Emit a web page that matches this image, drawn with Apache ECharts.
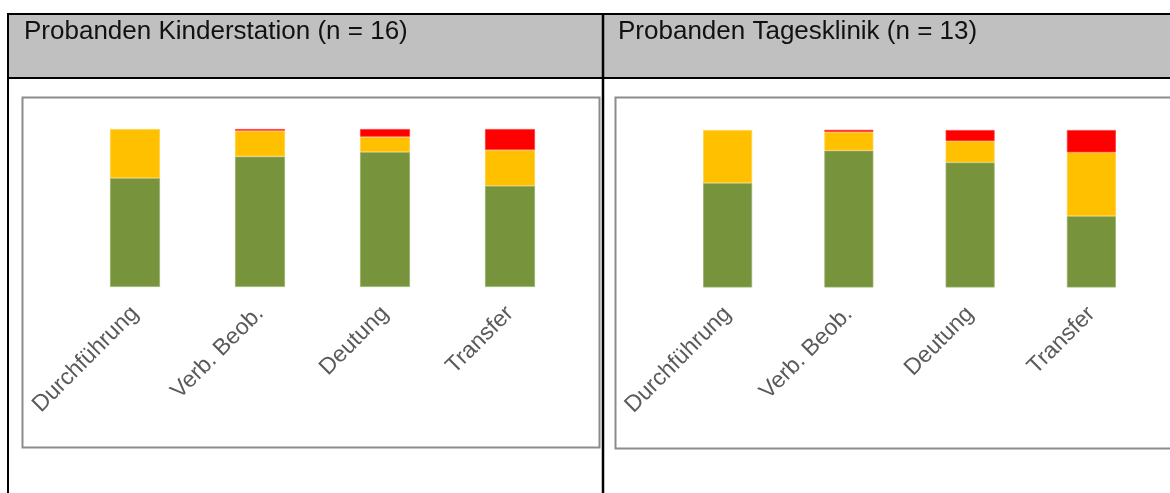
<!DOCTYPE html>
<html>
<head>
<meta charset="utf-8">
<script src="https://cdn.jsdelivr.net/npm/echarts@6/dist/echarts.min.js"></script>
<style>
  html, body { margin: 0; padding: 0; background: #ffffff; }
  #chart { width: 1170px; height: 493px; }
</style>
</head>
<body>
<div id="chart"></div>
<script>
// Rating categories shared by both groups
const categories = ['Durchführung', 'Verb. Beob.', 'Deutung', 'Transfer'];

// Header captions
const headerLeft = 'Probanden Kinderstation (n = 16)';
const headerRight = 'Probanden Tagesklinik (n = 13)';

// Kinderstation: share of ratings per category (percent)
const kinderGreen  = [68.9, 82.6, 85.4, 64.0];
const kinderYellow = [31.1, 16.3,  9.7, 22.7];
const kinderRed    = [ 0.0,  1.1,  4.9, 13.3];

// Tagesklinik: share of ratings per category (percent)
const tagesGreen  = [66.3, 86.9, 79.4, 45.3];
const tagesYellow = [33.7, 11.9, 13.6, 40.5];
const tagesRed    = [ 0.0,  1.3,  7.0, 14.2];

const GREEN = '#77933C';
const YELLOW = '#FFC000';
const RED = '#FF0000';
const FONT = '"Liberation Sans", Arial, sans-serif';

const chart = echarts.init(document.getElementById('chart'), null, { renderer: 'canvas' });

function xAxisFor(gridIndex) {
  return {
    type: 'category',
    gridIndex,
    data: categories,
    axisLine: { show: false },
    axisTick: { show: false },
    axisLabel: {
      rotate: 45,
      margin: 23,
      color: '#5A5A5A',
      fontFamily: FONT,
      fontSize: 23,
      interval: 0
    }
  };
}

function yAxisFor(gridIndex) {
  return {
    type: 'value',
    gridIndex,
    min: 0,
    max: 100,
    show: false,
    splitLine: { show: false }
  };
}

// Empty segments are left out so their outline does not show
function barSeries(data, color, edge, axisIndex, width, stack) {
  return {
    type: 'bar',
    data: data.map(v => (v === 0 ? '-' : v)),
    stack,
    xAxisIndex: axisIndex,
    yAxisIndex: axisIndex,
    barWidth: width,
    itemStyle: { color, borderColor: edge, borderWidth: 0.8 },
    emphasis: { disabled: true },
    silent: true
  };
}

const option = {
  animation: false,
  backgroundColor: '#ffffff',
  grid: [
    { left: 72.5, top: 129, width: 500, height: 158, containLabel: false },
    { left: 667, top: 130, width: 485, height: 157.5, containLabel: false }
  ],
  xAxis: [xAxisFor(0), xAxisFor(1)],
  yAxis: [yAxisFor(0), yAxisFor(1)],
  series: [
    barSeries(kinderGreen, GREEN, '#98B06A', 0, 50, 'kinder'),
    barSeries(kinderYellow, YELLOW, '#FFCF4D', 0, 50, 'kinder'),
    barSeries(kinderRed, RED, '#FF3A3A', 0, 50, 'kinder'),
    barSeries(tagesGreen, GREEN, '#98B06A', 1, 49, 'tages'),
    barSeries(tagesYellow, YELLOW, '#FFCF4D', 1, 49, 'tages'),
    barSeries(tagesRed, RED, '#FF3A3A', 1, 49, 'tages')
  ],
  graphic: [
    // header band
    { type: 'rect', z: -10, shape: { x: 8, y: 15, width: 1162, height: 62 }, style: { fill: '#C0C0C0' } },
    // table rules
    { type: 'line', z: -5, shape: { x1: 7, y1: 14, x2: 1170, y2: 14 }, style: { stroke: '#000', lineWidth: 2 } },
    { type: 'line', z: -5, shape: { x1: 8, y1: 13, x2: 8, y2: 493 }, style: { stroke: '#000', lineWidth: 2 } },
    { type: 'line', z: -5, shape: { x1: 603, y1: 13, x2: 603, y2: 493 }, style: { stroke: '#000', lineWidth: 2.5 } },
    { type: 'line', z: -5, shape: { x1: 7, y1: 78, x2: 1170, y2: 78 }, style: { stroke: '#000', lineWidth: 2 } },
    // chart frames
    { type: 'rect', z: -5, shape: { x: 22.5, y: 97.5, width: 577, height: 350 }, style: { fill: 'none', stroke: '#8C8C8C', lineWidth: 2 } },
    { type: 'rect', z: -5, shape: { x: 615.5, y: 97.5, width: 600, height: 351 }, style: { fill: 'none', stroke: '#8C8C8C', lineWidth: 2 } },
    // header captions
    { type: 'text', x: 24, y: 32, style: { text: headerLeft, font: '26px ' + FONT, fill: '#111', textVerticalAlign: 'middle' } },
    { type: 'text', x: 618, y: 32, style: { text: headerRight, font: '26px ' + FONT, fill: '#111', textVerticalAlign: 'middle' } }
  ]
};

chart.setOption(option);
</script>
</body>
</html>
